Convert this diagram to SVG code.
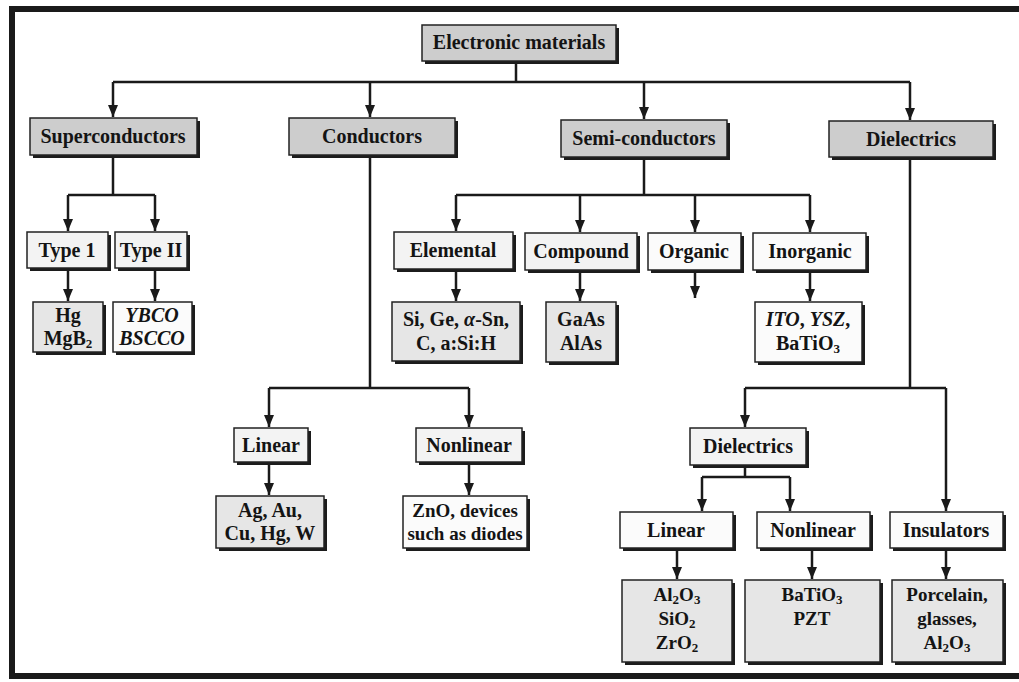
<svg xmlns="http://www.w3.org/2000/svg" width="1019" height="682" viewBox="0 0 1019 682">
<style>
.sh{fill:#1c1c1c}
.b{stroke:#222;stroke-width:1.5}
.g1{fill:#cdcdcd}
.g2{fill:#f3f3f3}
.g3{fill:#e6e6e6}
.w{fill:#fbfbfb}
text{font-family:"Liberation Serif","Times New Roman",serif;font-size:20px;font-weight:bold;fill:#141414;text-anchor:middle}
.it{font-style:italic}
.c{fill:none;stroke:#1a1a1a;stroke-width:2.5}
.s{font-size:13px}
.m{font-size:19px}
</style>
<defs>
<marker id="ah" markerUnits="userSpaceOnUse" viewBox="0 0 12 10" markerWidth="12" markerHeight="10" refX="12" refY="5" orient="auto">
<path d="M0,0 L12,5 L0,10 z" fill="#1a1a1a"/>
</marker>
</defs>
<rect x="0" y="0" width="1019" height="682" fill="#ffffff"/>
<path d="M1019 9 H12 V676 H1019" fill="none" stroke="#1a1a1a" stroke-width="6"/>

<g id="connectors">
<path class="c" d="M516 61 V82 M113 82 H910"/>
<path class="c" d="M113 82 V117" marker-end="url(#ah)"/>
<path class="c" d="M370 82 V117" marker-end="url(#ah)"/>
<path class="c" d="M644 82 V119" marker-end="url(#ah)"/>
<path class="c" d="M910 82 V120" marker-end="url(#ah)"/>

<path class="c" d="M113 155 V195 M68 195 H155"/>
<path class="c" d="M68 195 V231" marker-end="url(#ah)"/>
<path class="c" d="M155 195 V231" marker-end="url(#ah)"/>
<path class="c" d="M68 268 V301" marker-end="url(#ah)"/>
<path class="c" d="M155 268 V301" marker-end="url(#ah)"/>

<path class="c" d="M370 155 V388 M269 388 H469"/>
<path class="c" d="M269 388 V427" marker-end="url(#ah)"/>
<path class="c" d="M469 388 V427" marker-end="url(#ah)"/>
<path class="c" d="M269 462 V495" marker-end="url(#ah)"/>
<path class="c" d="M469 462 V495" marker-end="url(#ah)"/>

<path class="c" d="M644 157 V195 M456 195 H810"/>
<path class="c" d="M456 195 V231" marker-end="url(#ah)"/>
<path class="c" d="M580 195 V232" marker-end="url(#ah)"/>
<path class="c" d="M695 195 V232" marker-end="url(#ah)"/>
<path class="c" d="M810 195 V232" marker-end="url(#ah)"/>
<path class="c" d="M456 269 V301" marker-end="url(#ah)"/>
<path class="c" d="M580 270 V301" marker-end="url(#ah)"/>
<path class="c" d="M695 270 V298" marker-end="url(#ah)"/>
<path class="c" d="M810 270 V301" marker-end="url(#ah)"/>

<path class="c" d="M910 157 V388 M745 388 H946"/>
<path class="c" d="M745 388 V427" marker-end="url(#ah)"/>
<path class="c" d="M946 388 V511" marker-end="url(#ah)"/>
<path class="c" d="M745 465 V477 M702 477 H790"/>
<path class="c" d="M702 477 V511" marker-end="url(#ah)"/>
<path class="c" d="M790 477 V511" marker-end="url(#ah)"/>
<path class="c" d="M677 548 V579" marker-end="url(#ah)"/>
<path class="c" d="M812 548 V579" marker-end="url(#ah)"/>
<path class="c" d="M946 548 V579" marker-end="url(#ah)"/>
</g>

<g id="electronic-materials">
<rect class="sh" x="425" y="28" width="194" height="36"/>
<rect class="b g1" x="422" y="25" width="194" height="36"/>
<text x="519" y="49">Electronic materials</text>
</g>

<g id="superconductors">
<rect class="sh" x="33" y="121" width="167" height="37"/>
<rect class="b g1" x="30" y="118" width="167" height="37"/>
<text x="113" y="143">Superconductors</text>
</g>
<g id="conductors">
<rect class="sh" x="292" y="121" width="166" height="37"/>
<rect class="b g1" x="289" y="118" width="166" height="37"/>
<text x="372" y="143">Conductors</text>
</g>
<g id="semiconductors">
<rect class="sh" x="564" y="123" width="166" height="37"/>
<rect class="b g1" x="561" y="120" width="166" height="37"/>
<text x="644" y="145">Semi-conductors</text>
</g>
<g id="dielectrics">
<rect class="sh" x="832" y="124" width="164" height="36"/>
<rect class="b g1" x="829" y="121" width="164" height="36"/>
<text x="911" y="146">Dielectrics</text>
</g>

<g id="type1">
<rect class="sh" x="30" y="235" width="81" height="36"/>
<rect class="b g2" x="27" y="232" width="81" height="36"/>
<text x="67" y="257">Type 1</text>
</g>
<g id="type2">
<rect class="sh" x="118" y="235" width="72" height="36"/>
<rect class="b g2" x="115" y="232" width="72" height="36"/>
<text x="151" y="257">Type II</text>
</g>
<g id="hg">
<rect class="sh" x="36" y="305" width="70" height="50"/>
<rect class="b g3" x="33" y="302" width="70" height="50"/>
<text x="68" y="322">Hg</text>
<text x="68" y="345">MgB<tspan class="s" dy="3">2</tspan></text>
</g>
<g id="ybco">
<rect class="sh" x="116" y="305" width="79" height="50"/>
<rect class="b w" x="113" y="302" width="79" height="50"/>
<text class="it" x="152" y="322">YBCO</text>
<text class="it" x="152" y="345">BSCCO</text>
</g>

<g id="cond-linear">
<rect class="sh" x="237" y="431" width="74" height="34"/>
<rect class="b g2" x="234" y="428" width="74" height="34"/>
<text x="271" y="452">Linear</text>
</g>
<g id="cond-nonlinear">
<rect class="sh" x="419" y="431" width="106" height="34"/>
<rect class="b g2" x="416" y="428" width="106" height="34"/>
<text x="469" y="452">Nonlinear</text>
</g>
<g id="ag">
<rect class="sh" x="219" y="499" width="108" height="52"/>
<rect class="b g3" x="216" y="496" width="108" height="52"/>
<text x="270" y="517">Ag, Au,</text>
<text x="270" y="540">Cu, Hg, W</text>
</g>
<g id="zno">
<rect class="sh" x="406" y="499" width="124" height="52"/>
<rect class="b w" x="403" y="496" width="124" height="52"/>
<text class="m" x="465" y="517">ZnO, devices</text>
<text class="m" x="465" y="540">such as diodes</text>
</g>

<g id="elemental">
<rect class="sh" x="397" y="235" width="119" height="37"/>
<rect class="b g2" x="394" y="232" width="119" height="37"/>
<text x="453" y="257">Elemental</text>
</g>
<g id="compound">
<rect class="sh" x="528" y="236" width="112" height="37"/>
<rect class="b g2" x="525" y="233" width="112" height="37"/>
<text x="581" y="258">Compound</text>
</g>
<g id="organic">
<rect class="sh" x="651" y="236" width="93" height="37"/>
<rect class="b w" x="648" y="233" width="93" height="37"/>
<text x="694" y="258">Organic</text>
</g>
<g id="inorganic">
<rect class="sh" x="756" y="236" width="113" height="37"/>
<rect class="b w" x="753" y="233" width="113" height="37"/>
<text x="810" y="258">Inorganic</text>
</g>
<g id="si">
<rect class="sh" x="395" y="305" width="128" height="59"/>
<rect class="b g3" x="392" y="302" width="128" height="59"/>
<text x="456" y="326">Si, Ge, <tspan class="it">α</tspan>-Sn,</text>
<text x="456" y="350">C, a:Si:H</text>
</g>
<g id="gaas">
<rect class="sh" x="549" y="305" width="70" height="60"/>
<rect class="b g3" x="546" y="302" width="70" height="60"/>
<text x="581" y="326">GaAs</text>
<text x="581" y="350">AlAs</text>
</g>
<g id="ito">
<rect class="sh" x="758" y="305" width="107" height="60"/>
<rect class="b w" x="755" y="302" width="107" height="60"/>
<text x="808" y="326"><tspan class="it">ITO</tspan>, <tspan class="it">YSZ</tspan>,</text>
<text x="808" y="350">BaTiO<tspan class="s" dy="3">3</tspan></text>
</g>

<g id="dielectrics-sub">
<rect class="sh" x="693" y="431" width="116" height="37"/>
<rect class="b g2" x="690" y="428" width="116" height="37"/>
<text x="748" y="453">Dielectrics</text>
</g>
<g id="diel-linear">
<rect class="sh" x="623" y="515" width="113" height="36"/>
<rect class="b w" x="620" y="512" width="113" height="36"/>
<text x="676" y="537">Linear</text>
</g>
<g id="diel-nonlinear">
<rect class="sh" x="760" y="515" width="113" height="36"/>
<rect class="b w" x="757" y="512" width="113" height="36"/>
<text x="813" y="537">Nonlinear</text>
</g>
<g id="insulators">
<rect class="sh" x="893" y="515" width="113" height="36"/>
<rect class="b w" x="890" y="512" width="113" height="36"/>
<text x="946" y="537">Insulators</text>
</g>
<g id="al2o3">
<rect class="sh" x="625" y="583" width="110" height="82"/>
<rect class="b g3" x="622" y="580" width="110" height="82"/>
<text class="m" x="677" y="601">Al<tspan class="s" dy="3">2</tspan><tspan dy="-3">O</tspan><tspan class="s" dy="3">3</tspan></text>
<text class="m" x="677" y="625">SiO<tspan class="s" dy="3">2</tspan></text>
<text class="m" x="677" y="649">ZrO<tspan class="s" dy="3">2</tspan></text>
</g>
<g id="batio3">
<rect class="sh" x="748" y="583" width="135" height="82"/>
<rect class="b g3" x="745" y="580" width="135" height="82"/>
<text class="m" x="812" y="601">BaTiO<tspan class="s" dy="3">3</tspan></text>
<text class="m" x="812" y="625">PZT</text>
</g>
<g id="porcelain">
<rect class="sh" x="895" y="583" width="111" height="82"/>
<rect class="b g3" x="892" y="580" width="111" height="82"/>
<text class="m" x="947" y="601">Porcelain,</text>
<text class="m" x="947" y="625">glasses,</text>
<text class="m" x="947" y="649">Al<tspan class="s" dy="3">2</tspan><tspan dy="-3">O</tspan><tspan class="s" dy="3">3</tspan></text>
</g>
</svg>
